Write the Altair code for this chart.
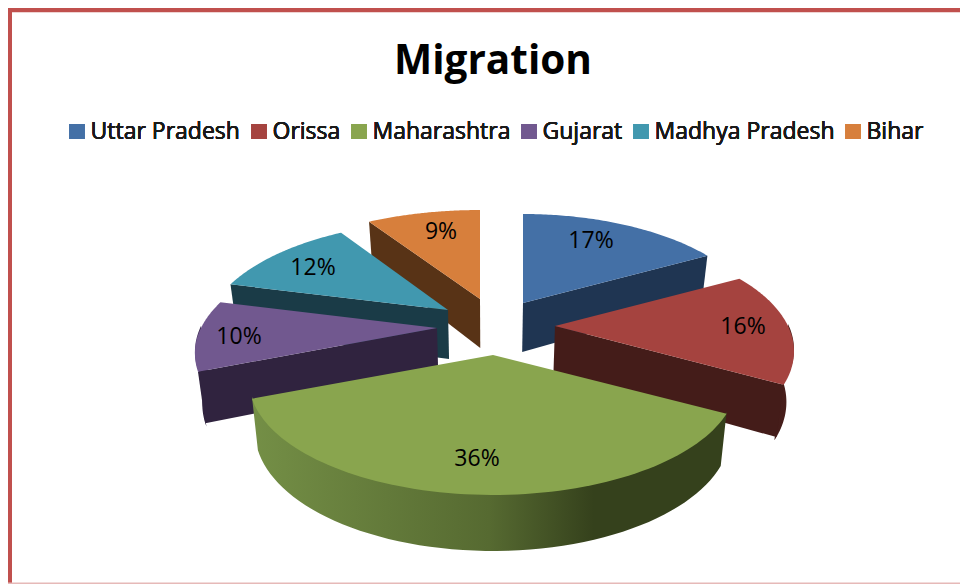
import math
import altair as alt
import pandas as pd

# ---- chart values ----
states = ["Uttar Pradesh", "Orissa", "Maharashtra", "Gujarat", "Madhya Pradesh", "Bihar"]
shares = [17, 16, 36, 10, 12, 9]
title_text = "Migration"

# ---- drawing style (not data) ----
top_colors = ["#4470a6", "#a5433f", "#89a54e", "#71588f", "#4198af", "#d77f3c"]
wall_colors = ["#1f3552", "#441c19", "#3a4a20", "#30233f", "#1a3b47", "#583316"]
apex_x = [523, 555, 493, 437, 448, 480]
apex_y = [303, 326, 355, 328, 310, 299]
radius_x = [233, 233, 238, 236, 237, 246]
label_x = [591, 743, 477, 239, 313, 441]
label_y = [241, 327, 459, 337, 268, 232]
paint_order = [0, 5, 4, 1, 3, 2]
FIRST_ANGLE = 0.0
K, P = 108.8, 0.2227   # ellipse height and perspective of the tilted pie
SHRINK, SHRINK_X = 0.975, 490.0
FONT = "Open Sans"

X = alt.Scale(domain=[8, 960], zero=False, nice=False)
Y = alt.Scale(domain=[584, 8], zero=False, nice=False)
xe = alt.X("x:Q", scale=X, axis=None)
ye = alt.Y("y:Q", scale=Y, axis=None)


def top_pt(i, deg):
    t = math.radians(deg)
    u, v = math.sin(t), math.cos(t)
    s = 1 / (1 + P * v)
    return apex_x[i] + radius_x[i] * u * s, apex_y[i] - K * v * s


def low_pt(i, deg=None):
    if deg is None:
        x, y, v = apex_x[i], apex_y[i], 0.0
    else:
        x, y = top_pt(i, deg)
        v = math.cos(math.radians(deg))
    return SHRINK_X + (x - SHRINK_X) * SHRINK, y + 49 - 7 * v


def poly(points, mark_kwargs, extra=None):
    df = pd.DataFrame({"x": [p[0] for p in points], "y": [p[1] for p in points],
                       "i": list(range(len(points)))})
    enc = dict(x=xe, y=ye, order=alt.Order("i:Q"))
    if extra:
        for k, val in extra.items():
            df[k] = val
        enc["fill"] = alt.Fill("state:N", scale=alt.Scale(domain=states, range=top_colors),
                               legend=alt.Legend(
                                   orient="none", legendX=57.5, legendY=112, direction="horizontal",
                                   columns=6, title=None, symbolType="square", symbolSize=225,
                                   symbolStrokeWidth=0, symbolOpacity=1,
                                   labelFont=FONT, labelFontSize=23, labelColor="#1a1a1a",
                                   labelOffset=2, columnPadding=7, labelLimit=300,
                                   gridAlign="none"))
    return alt.Chart(df).mark_line(strokeWidth=0, clip=False, **mark_kwargs).encode(**enc)


total = sum(shares)
starts, ends, a = [], [], FIRST_ANGLE
for val in shares:
    starts.append(a)
    a += val * 360.0 / total
    ends.append(a)

layers = []
rim_stops = {
    1: [(0, "#441c19"), (1, "#4a1f1c")],
    3: [(0, "#5f4a7c"), (0.45, "#30233f"), (1, "#30233f")],
}
for i in paint_order:
    a0, a1 = starts[i], ends[i]
    # outer rim first; it runs a little under the cut face and the top face, so no seam shows
    lo, hi = max(a0, 90.0), min(a1, 270.0)
    if lo < hi:
        if i != 2:
            lo, hi = (lo, hi + 1.5) if i == 1 else (lo - 1.5, hi)
        n = 60
        angs = [lo + (hi - lo) * k / n for k in range(n + 1)]
        upper = [(top_pt(i, d)[0], top_pt(i, d)[1] - 2) for d in angs]
        pts = upper + [low_pt(i, d) for d in reversed(angs)]
        if i == 2:
            stops = [(0, "#748f46"), (0.5, "#566a31"), (0.72, "#35411c"), (1, "#35411c")]
        else:
            stops = rim_stops[i]
        fill = alt.LinearGradient(gradient="linear", x1=0, x2=1, y1=0, y2=0, stops=[
            alt.GradientStop(offset=o, color=c) for o, c in stops])
        layers.append(poly(pts, {"fill": fill}))
    for edge in (a0, a1):
        s = math.sin(math.radians(edge))
        visible = (edge == a0 and s < 0) or (edge == a1 and s > 0)
        if visible:
            pts = [(apex_x[i], apex_y[i]), top_pt(i, edge), low_pt(i, edge), low_pt(i)]
            layers.append(poly(pts, {"fill": wall_colors[i]}))
    n = 80
    arc = [top_pt(i, a0 + (a1 - a0) * k / n) for k in range(n + 1)]
    layers.append(poly([(apex_x[i], apex_y[i])] + arc, {}, extra={"state": states[i]}))

labels = pd.DataFrame({"x": label_x, "y": label_y, "t": [f"{v}%" for v in shares]})
layers.append(alt.Chart(labels).mark_text(font=FONT, fontSize=23, color="#000000", baseline="middle")
              .encode(x=xe, y=ye, text="t:N"))

# frame around the chart
frame = pd.DataFrame({"x": [8, 8, 8], "x2": [960, 12, 960], "y": [7, 7, 582.5], "y2": [12.3, 584, 584],
                      "c": ["#c0504d", "#c0504d", "#e6b9b8"]})
frame_layer = alt.Chart(frame).mark_rect().encode(
    x=xe, x2="x2:Q", y=ye, y2="y2:Q", fill=alt.Fill("c:N", scale=None, legend=None))

chart = alt.layer(frame_layer, *layers).resolve_scale(fill="independent").properties(
    width=952, height=576,
    padding=0,
    autosize=alt.AutoSizeParams(type="none"),
    title=alt.TitleParams(title_text, font=FONT, fontSize=40.5, fontWeight="bold", color="#000000",
                          anchor="middle", dx=9, dy=95, baseline="middle", offset=0),
).configure_view(stroke=None)

chart.save("out.html", embed_options={"renderer": "svg", "actions": False})
